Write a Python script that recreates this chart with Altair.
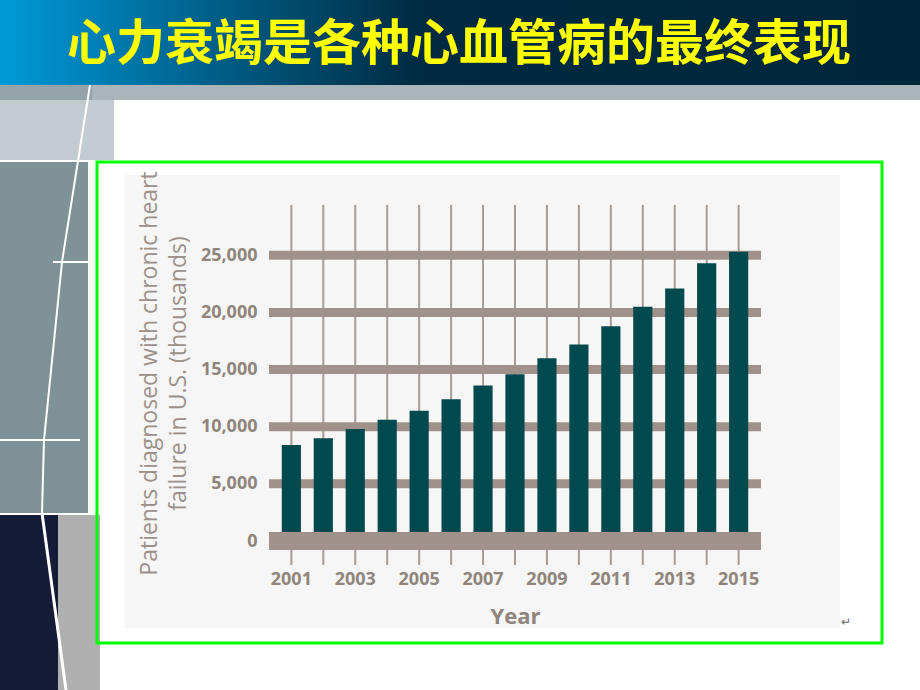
import altair as alt
import pandas as pd

# ---------------- data ----------------
years = [str(y) for y in range(2001, 2016)]
patients = [8400, 9000, 9800, 10600, 11400, 12400, 13600, 14600,
            16000, 17200, 18800, 20500, 22100, 24300, 25300]
y_ticks = [0, 5000, 10000, 15000, 20000, 25000]
slide_title = "心力衰竭是各种心血管病的最终表现"
y_title = ["Patients diagnosed with chronic heart", "failure in U.S. (thousands)"]
x_title = "Year"

# ---------------- layout ----------------
CW, CH = 920, 690
L, T = 269, 205          # plot-area origin on the page
W, H = 492, 336          # plot-area size
YMAX = 29400

BAR = "#00494f"
BAND = "#a0928a"
TXT = "#8f857d"

df = pd.DataFrame({"year": years, "patients": patients})
bands_df = pd.DataFrame({"v": y_ticks[1:]})
zero_df = pd.DataFrame({"v": y_ticks[:1]})
one = pd.DataFrame({"k": [0]})

xscale = alt.Scale(domain=years, paddingInner=0.4, paddingOuter=0.4)
yscale = alt.Scale(domain=[0, YMAX], nice=False, zero=True)

xaxis = alt.Axis(labelAngle=0, ticks=False, domain=False, grid=False,
                 labelExpr="datum.value % 2 == 1 ? datum.label : ''",
                 labelFont="Open Sans", labelFontSize=18, labelFontWeight="bold",
                 labelColor=TXT, labelPadding=29,
                 titleFont="Open Sans", titleFontSize=22, titleFontWeight="bold",
                 titleColor=TXT, titlePadding=18, zindex=1)
yaxis = alt.Axis(values=y_ticks, labelExpr="format(datum.value, ',')",
                 ticks=False, domain=False, grid=False,
                 labelFont="Open Sans", labelFontSize=18, labelFontWeight="bold",
                 labelColor=TXT, labelPadding=12,
                 titleFont="Open Sans", titleFontSize=23, titleFontWeight="normal",
                 titleColor="#9b918a", titleLineHeight=29, titlePadding=10,
                 zindex=1)


def box(x1, y1, x2, y2, **kw):
    return alt.Chart(one).mark_rect(**kw).encode(
        x=alt.value(x1 - L), x2=alt.value(x2 - L),
        y=alt.value(y1 - T), y2=alt.value(y2 - T))


def seg(x1, y1, x2, y2, color, width):
    return alt.Chart(one).mark_rule(color=color, strokeWidth=width).encode(
        x=alt.value(x1 - L), x2=alt.value(x2 - L),
        y=alt.value(y1 - T), y2=alt.value(y2 - T))


grad = alt.LinearGradient(
    gradient="linear", x1=0, x2=1, y1=0, y2=0,
    stops=[alt.GradientStop(color="#009ad9", offset=0),
           alt.GradientStop(color="#005a82", offset=0.25),
           alt.GradientStop(color="#002a40", offset=0.46),
           alt.GradientStop(color="#00263a", offset=1)])

decor = [
    box(0, 0, CW, 85, color=grad),
    box(0, 85, CW, 100, color="#a9b5b9"),
    box(0, 85, 92, 100, color="#94a3a9"),
    box(0, 100, 114, 160, color="#c2ccd0"),
    box(0, 162, 88, 513, color="#7e9298"),
    box(0, 515, 58, CH, color="#141c37"),
    box(58, 515, 100, CH, color="#b0b0b0"),
    seg(53, 262, 88, 262, "white", 2),
    seg(0, 440, 80, 440, "white", 2),
    seg(90, 85, 62, 262, "white", 2),
    seg(62, 262, 44, 440, "white", 2),
    seg(44, 440, 42, 513, "white", 2),
    seg(42, 513, 66, CH, "white", 3),
]

title_txt = alt.Chart(one).mark_text(
    text=slide_title, font="Noto Sans CJK SC", fontSize=49, fontWeight="bold",
    color="#ffff00", align="center", baseline="middle"
).encode(x=alt.value(459 - L), y=alt.value(45 - T))

panel = box(125, 175, 840, 628, color="#f6f6f6")
border = box(97, 162, 882, 643, filled=False, stroke="#00ff00", strokeWidth=3)
para = alt.Chart(one).mark_text(text="↵", fontSize=12, color="#666666").encode(
    x=alt.value(846 - L), y=alt.value(622 - T))

vlines = alt.Chart(df).mark_rule(color="#a89c93", strokeWidth=2).encode(
    x=alt.X("year:N", scale=xscale, axis=xaxis, title=x_title),
    y=alt.value(0), y2=alt.value(H + 24))

hbands = alt.Chart(bands_df).mark_rule(color=BAND, strokeWidth=9).encode(
    y=alt.Y("v:Q", scale=yscale, axis=yaxis, title=y_title),
    x=alt.value(0), x2=alt.value(W))

bars = alt.Chart(df).mark_bar(color=BAR).encode(
    x=alt.X("year:N", scale=xscale, axis=xaxis, title=x_title),
    y=alt.Y("patients:Q", scale=yscale, axis=yaxis, title=y_title),
)

zband = alt.Chart(zero_df).mark_rule(color=BAND, strokeWidth=18).encode(
    y=alt.Y("v:Q", scale=yscale, axis=yaxis, title=y_title),
    x=alt.value(0), x2=alt.value(W))

chart = alt.layer(
    *decor, title_txt, border, panel, para,
    vlines, hbands, bars, zband
).properties(
    width=W, height=H,
    padding={"left": L, "top": T, "right": CW - L - W, "bottom": CH - T - H},
    autosize=alt.AutoSizeParams(type="none"),
    background="white",
).configure_view(stroke=None)

chart.save("out.html", embed_options={"renderer": "svg", "actions": False})
